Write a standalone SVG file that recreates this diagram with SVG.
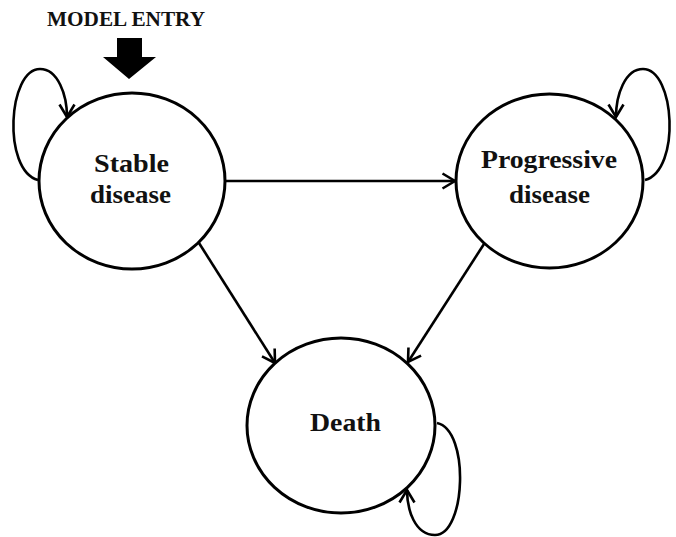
<svg xmlns="http://www.w3.org/2000/svg" width="676" height="537" viewBox="0 0 676 537">
<style>
.node{fill:#fff;stroke:#000;stroke-width:3}
.lbl{font-family:"Liberation Serif","Times New Roman",serif;font-weight:bold;font-size:26px;fill:#111;text-anchor:middle}
.title{font-family:"Liberation Serif","Times New Roman",serif;font-weight:bold;font-size:21px;fill:#111}
.edge{fill:none;stroke:#000;stroke-width:2.6;marker-end:url(#arr)}
</style>
<defs>
<marker id="arr" viewBox="0 0 16 18" refX="14" refY="9" markerWidth="16" markerHeight="18" markerUnits="userSpaceOnUse" orient="auto">
<path d="M1.5,1.5 L14,9 L1.5,16.5" fill="none" stroke="#000" stroke-width="2.6" stroke-linejoin="miter"/>
</marker>
</defs>
<g id="entry">
<text class="title" x="47" y="26" textLength="158" lengthAdjust="spacingAndGlyphs">MODEL ENTRY</text>
<polygon points="117,38 142,38 142,57 156,57 129,79 103,57 117,57" fill="#000"/>
</g>
<g id="connectors">
<line class="edge" x1="225" y1="181" x2="455" y2="181"/>
<line class="edge" x1="199" y1="243" x2="275" y2="363"/>
<line class="edge" x1="484" y1="244" x2="408" y2="362"/>
<path class="edge" d="M38,180 C2,170 8,69 40,69 C58,69 67,95 67,117"/>
<path class="edge" d="M645,180 C681,170 675,69 643,69 C625,69 616,95 616,117"/>
<path class="edge" d="M437,423 C470,430 466,535 435,535 C415,535 407,510 407,490"/>
</g>
<g id="stable">
<ellipse class="node" cx="132" cy="181" rx="93" ry="88"/>
<text class="lbl" x="131.5" y="172" textLength="75" lengthAdjust="spacingAndGlyphs">Stable</text>
<text class="lbl" x="130.5" y="203" textLength="81" lengthAdjust="spacingAndGlyphs">disease</text>
</g>
<g id="progressive">
<ellipse class="node" cx="549.5" cy="181" rx="93.5" ry="87"/>
<text class="lbl" x="549" y="168" textLength="136" lengthAdjust="spacingAndGlyphs">Progressive</text>
<text class="lbl" x="549.5" y="203" textLength="81" lengthAdjust="spacingAndGlyphs">disease</text>
</g>
<g id="death">
<ellipse class="node" cx="341" cy="425.5" rx="94" ry="87.5"/>
<text class="lbl" x="345.5" y="431" textLength="71" lengthAdjust="spacingAndGlyphs">Death</text>
</g>
</svg>
